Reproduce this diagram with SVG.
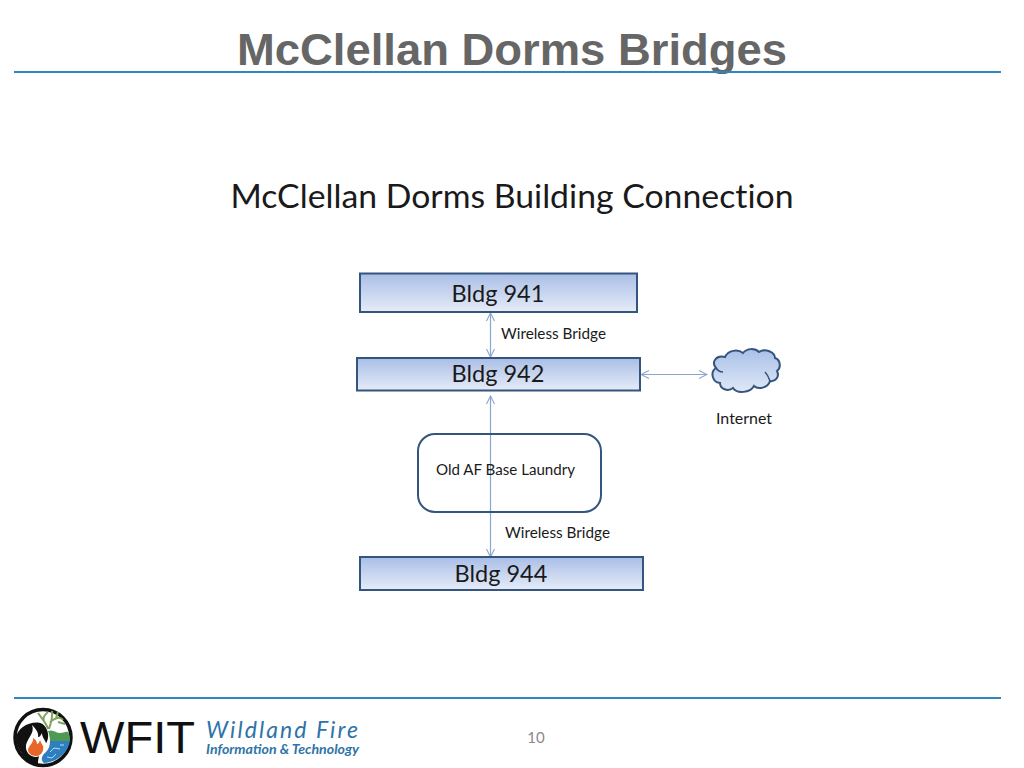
<svg xmlns="http://www.w3.org/2000/svg" width="1024" height="768" viewBox="0 0 1024 768">
<style>
.rule{stroke:#2e88bd;stroke-width:2;fill:none}
.bldg{fill:url(#g);stroke:#34557e;stroke-width:2}
.t{font-family:Lato,"Liberation Sans",sans-serif;fill:#1a1a1a;font-variant-ligatures:none}
.b{font-size:23.500px;text-anchor:middle}
.s{font-size:15.500px}
.c{stroke:#8aa6cc;stroke-width:1.2;fill:none;marker-start:url(#a);marker-end:url(#a)}
</style>
<defs>
<linearGradient id="g" x1="0" y1="0" x2="0" y2="1"><stop offset="0" stop-color="#a9bee6"/><stop offset="1" stop-color="#e6ecf8"/></linearGradient>
<linearGradient id="cg" x1="0" y1="0" x2="0" y2="1"><stop offset="0" stop-color="#a9c0e8"/><stop offset="1" stop-color="#dfe8f7"/></linearGradient>
<marker id="a" markerWidth="10" markerHeight="10" refX="9" refY="5" orient="auto-start-reverse" markerUnits="userSpaceOnUse"><path d="M1 1L9 5L1 9" fill="none" stroke="#8aa6cc" stroke-width="1.1"/></marker>
</defs>
<rect width="1024" height="768" fill="#fff"/>
<g id="header">
<text x="512" y="65" text-anchor="middle" font-family="Liberation Sans,sans-serif" font-weight="700" font-size="44" fill="#666666" textLength="550" lengthAdjust="spacingAndGlyphs">McClellan Dorms Bridges</text>
<line class="rule" x1="14" y1="72" x2="1001" y2="72"/>
</g>
<text id="title" class="t" x="512" y="208" text-anchor="middle" font-size="32.500px" textLength="563" lengthAdjust="spacingAndGlyphs">McClellan Dorms Building Connection</text>
<g id="connectors">
<line class="c" x1="490.500" y1="313" x2="490.500" y2="357"/>
<line class="c" x1="641" y1="374.500" x2="707" y2="374.500"/>
<line class="c" x1="490.500" y1="396" x2="490.500" y2="557"/>
</g>
<g id="bldg941"><rect class="bldg" x="360" y="273.500" width="277" height="38.500"/><text class="t b" x="498" y="302">Bldg 941</text></g>
<g id="bldg942"><rect class="bldg" x="357" y="358" width="283" height="32.500"/><text class="t b" x="498" y="382">Bldg 942</text></g>
<g id="bldg944"><rect class="bldg" x="360" y="557" width="283" height="33"/><text class="t b" x="501" y="582">Bldg 944</text></g>
<g id="laundry"><rect x="418" y="434" width="183" height="78" rx="17" fill="none" stroke="#34557e" stroke-width="2"/><text class="t s" x="436" y="475" textLength="139" lengthAdjust="spacingAndGlyphs">Old AF Base Laundry</text></g>
<text class="t s" x="501" y="339" textLength="105" lengthAdjust="spacingAndGlyphs">Wireless Bridge</text>
<text class="t s" x="505" y="538" textLength="105" lengthAdjust="spacingAndGlyphs">Wireless Bridge</text>
<g id="internet">
<path d="M716 368C711 362 716 355 725 357C728 350 738 349 743 353C747 348 755 348 759 352C765 348 775 352 775 358C781 360 781 368 777 371C780 377 775 382 770 381C768 388 758 390 754 386C750 393 737 394 733 388C728 392 720 389 720 383C712 382 710 372 716 368Z" fill="url(#cg)" stroke="#34557e" stroke-width="2"/>
<path d="M716 368C718 371 720 372 723 372M765 372C768 375 769 378 770 381" fill="none" stroke="#34557e" stroke-width="1.500"/>
<text class="t s" x="716" y="424" textLength="56" lengthAdjust="spacingAndGlyphs">Internet</text>
</g>
<line class="rule" x1="14" y1="698" x2="1001" y2="698"/>
<g id="logo">
<circle cx="43" cy="737.500" r="28" fill="#fff" stroke="#111" stroke-width="3.500"/>
<path d="M38 722.500C45 723 49 731 48 738C46 748 38 750 38 765C28 762 17 752 16 738C17 729 27 722 38 722.500Z" fill="#111"/>
<path d="M32 725C35 733 28 737 26 745C25 753 31 757 36 757C43 756 47 750 46 743C44 738 42 737 42 733C40 736 40 737 38 737C39 733 36 729 32 725Z" fill="#fff"/>
<path d="M33 738C34 743 28 746 28 750C29 755 33 756 37 756C42 755 44 750 43 746C42 744 41 743 40 740C39 743 38 744 37 744C37 741 35 739 33 738Z" fill="#e8662a"/>
<path d="M50 741L70 741C68 752 58 762 44 763C40 760 42 755 46 752C49 749 50 745 50 741Z" fill="#2d7fc1"/>
<path d="M48 731C53 729 56 733 60 733C63 733 66 731 68 732C70 735 70 738 70 741L50 741C50 737 49 734 48 731Z" fill="#4f9a52"/>
<path d="M48 729C46 722 40 716 38 713M49 729C51 722 53 718 52 711M50 722C55 718 60 716 63 720M44 720C42 717 46 714 48 712M56 718L58 712M58 722L65 724" fill="none" stroke="#7fa35a" stroke-width="2"/>
<path d="M50 752L54 748L60 749M47 757L52 758L56 754M60 745L64 745" fill="none" stroke="#bcdcf2" stroke-width="1"/>
<text x="80" y="753" font-family="Liberation Sans,sans-serif" font-size="44" fill="#111" textLength="115" lengthAdjust="spacingAndGlyphs">WFIT</text>
<text x="206" y="738" font-family="Lato,sans-serif" font-style="italic" font-size="23" fill="#2e74a8" textLength="152" lengthAdjust="spacing">Wildland Fire</text>
<text x="206" y="754" font-family="Lato,sans-serif" font-style="italic" font-weight="700" font-size="13.500" fill="#2e74a8" textLength="153" lengthAdjust="spacingAndGlyphs">Information &amp; Technology</text>
</g>
<text id="page" x="536" y="743" text-anchor="middle" font-family="Lato,sans-serif" font-size="15" fill="#8a8a8a">10</text>
</svg>
